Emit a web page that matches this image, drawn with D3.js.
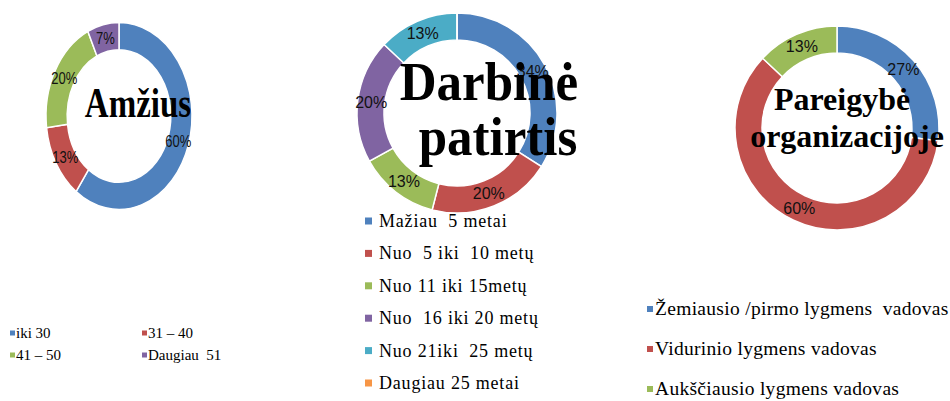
<!DOCTYPE html>
<html>
<head>
<meta charset="utf-8">
<script src="https://cdn.jsdelivr.net/npm/d3@7"></script>
<style>
  html, body { margin: 0; padding: 0; background: #fff; }
  svg { display: block; }
</style>
</head>
<body>
<div id="chart"></div>
<script>
/* ── Data ───────────────────────────────────────────────────────────────── */
const ageCats = ['iki 30', '31 – 40', '41 – 50', 'Daugiau  51'];
const ageVals = [60, 13, 20, 7];

const expCats = ['Mažiau  5 metai', 'Nuo  5 iki  10 metų', 'Nuo 11 iki 15metų',
                 'Nuo  16 iki 20 metų', 'Nuo 21iki  25 metų', 'Daugiau 25 metai'];
const expVals = [34, 20, 13, 20, 13, 0];

const posCats = ['Žemiausio /pirmo lygmens  vadovas', 'Vidurinio lygmens vadovas',
                 'Aukščiausio lygmens vadovas'];
const posVals = [27, 60, 13];

const COLORS = ['#4f81bd', '#c0504d', '#9bbb59', '#8064a2', '#4bacc6', '#f79646'];

const SERIF = '"Liberation Serif", "Times New Roman", "DejaVu Serif", serif';
const SANS  = '"Liberation Sans", Arial, sans-serif';

/* ── Layout ─────────────────────────────────────────────────────────────── */
const W = 950, H = 401;

const svg = d3.select('#chart')
  .append('svg')
    .attr('width', W)
    .attr('height', H);

svg.append('rect').attr('width', W).attr('height', H).attr('fill', '#fff');

const pie = d3.pie().sort(null).value(d => d);

function donut(vals, o) {
  const arc = d3.arc().innerRadius(o.r * o.hole).outerRadius(o.r);
  const g = svg.append('g')
    .attr('transform', `translate(${o.cx},${o.cy}) scale(1,${o.sy})`);

  const arcs = pie(vals);
  g.selectAll('path')
    .data(arcs)
    .join('path')
      .attr('d', arc)
      .attr('fill', (d, i) => COLORS[i])
      .attr('stroke', '#fff')
      .attr('stroke-width', 1.5)
      .attr('vector-effect', 'non-scaling-stroke');

  // percentage labels at the ring centroid
  g.selectAll('text')
    .data(arcs.filter(d => d.data > 0))
    .join('text')
      .attr('x', d => arc.centroid(d)[0])
      .attr('y', d => arc.centroid(d)[1])
      .attr('text-anchor', 'middle')
      .attr('dominant-baseline', 'central')
      .attr('font-family', SANS)
      .attr('font-size', o.pctSize)
      .attr('fill', '#111')
      .text(d => d.data + '%');

  // title drawn over the ring
  o.title.forEach(t => {
    svg.append('g')
      .attr('transform', `translate(${t.x},${t.y}) scale(1,${o.tsy})`)
      .append('text')
        .attr('text-anchor', 'middle')
        .attr('font-family', SERIF)
        .attr('font-weight', 'bold')
        .attr('font-size', o.titleSize)
        .attr('fill', '#000')
        .text(t.s);
  });
}

donut(ageVals, {
  cx: 119, cy: 116, r: 73, sy: 1.28, hole: 0.71, pctSize: 13,
  titleSize: 33, tsy: 1.3,
  title: [{ s: 'Amžius', x: 138, y: 117 }]
});

donut(expVals, {
  cx: 457, cy: 113, r: 100, sy: 1, hole: 0.73, pctSize: 16,
  titleSize: 51, tsy: 1.08,
  title: [{ s: 'Darbinė', x: 489, y: 100 }, { s: 'patirtis', x: 498, y: 155 }]
});

donut(posVals, {
  cx: 837, cy: 128, r: 102, sy: 1, hole: 0.735, pctSize: 16,
  titleSize: 32, tsy: 1.0,
  title: [{ s: 'Pareigybė', x: 842, y: 110 }, { s: 'organizacijoje', x: 847, y: 147 }]
});

/* ── Legends ────────────────────────────────────────────────────────────── */
function legend(cats, items, o) {
  const g = svg.append('g');
  cats.forEach((c, i) => {
    const p = items[i];
    g.append('rect')
      .attr('x', p.x)
      .attr('y', p.y - o.box / 2)
      .attr('width', o.box)
      .attr('height', o.box)
      .attr('fill', COLORS[i]);
    g.append('text')
      .attr('x', p.x + o.gap)
      .attr('y', p.y + o.size * 0.33)
      .attr('font-family', SERIF)
      .attr('font-size', o.size)
      .attr('letter-spacing', o.ls || 0)
      .attr('fill', '#000')
      .style('white-space', 'pre')
      .text(c);
  });
}

const ageCol = d3.scaleOrdinal().domain([0, 1]).range([10, 142]);
const ageRow = d3.scaleOrdinal().domain([0, 1]).range([333, 355]);
legend(ageCats, ageCats.map((c, i) => ({ x: ageCol(i % 2), y: ageRow(Math.floor(i / 2)) })),
  { box: 5, gap: 6, size: 15 });

const expRow = d3.scalePoint().domain(d3.range(expCats.length)).range([221, 383]);
legend(expCats, expCats.map((c, i) => ({ x: 365, y: expRow(i) })),
  { box: 7, gap: 14, size: 18, ls: 0.8 });

const posRow = d3.scalePoint().domain(d3.range(posCats.length)).range([309, 389]);
legend(posCats, posCats.map((c, i) => ({ x: 647, y: posRow(i) })),
  { box: 6, gap: 8, size: 19.5, ls: 0.3 });
</script>
</body>
</html>
